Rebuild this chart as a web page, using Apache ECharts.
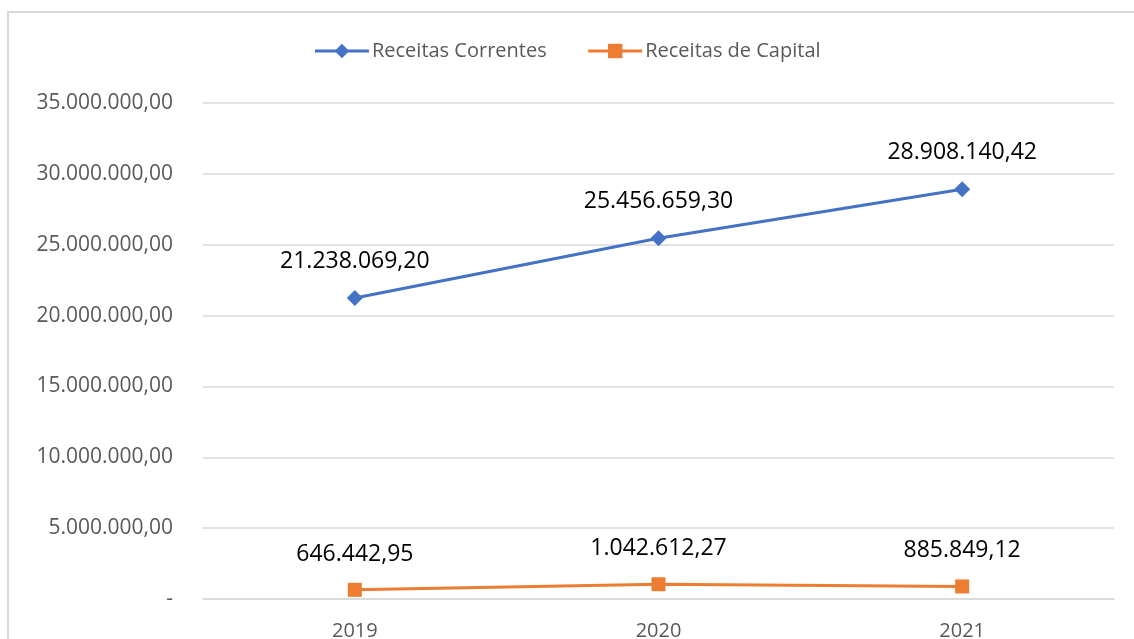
<!DOCTYPE html>
<html>
<head>
<meta charset="utf-8">
<script src="https://cdn.jsdelivr.net/npm/echarts@6/dist/echarts.min.js"></script>
<style>
  body { margin: 0; background: #fff; overflow: hidden; }
  #frame {
    position: absolute; left: 7px; top: 11px;
    width: 1140px; height: 700px;
    border: 2px solid #d9d9d9;
  }
  #main { position: absolute; left: 0; top: 0; width: 1134px; height: 639px; }
</style>
</head>
<body>
<div id="frame"></div>
<div id="main"></div>
<script>
// dados do gráfico
const anos = ['2019', '2020', '2021']
const receitasCorrentes = [21238069.20, 25456659.30, 28908140.42]
const receitasCapital = [646442.95, 1042612.27, 885849.12]

const fmt = v => v.toLocaleString('pt-BR', { minimumFractionDigits: 2, maximumFractionDigits: 2 })

let myChart = echarts.init(document.getElementById('main'))
myChart.setOption({
  animation: false,
  textStyle: { fontFamily: 'Open Sans, Liberation Sans, sans-serif' },
  legend: {
    top: 36,
    left: 'center',
    itemWidth: 54,
    itemHeight: 18,
    itemGap: 40,
    lineStyle: { width: 3 },
    textStyle: { fontSize: 20, color: '#595959', padding: [0, 0, 0, -2] },
    data: ['Receitas Correntes', 'Receitas de Capital']
  },
  grid: { left: 203, right: 20, top: 103, bottom: 40, containLabel: false, outerBoundsMode: 'none' },
  xAxis: {
    type: 'category',
    data: anos,
    axisTick: { show: false },
    axisLine: { lineStyle: { color: '#d9d9d9', width: 1.5 } },
    axisLabel: { fontSize: 20, color: '#595959', margin: 22 }
  },
  yAxis: {
    type: 'value',
    min: 0,
    max: 35000000,
    interval: 5000000,
    axisLine: { show: false },
    axisTick: { show: false },
    splitLine: { lineStyle: { color: '#d9d9d9', width: 1.5 } },
    axisLabel: {
      fontSize: 21,
      color: '#595959',
      margin: 30,
      formatter: v => v === 0 ? '-' : fmt(v)
    }
  },
  series: [
    {
      name: 'Receitas Correntes',
      type: 'line',
      data: receitasCorrentes,
      symbol: 'diamond',
      symbolSize: 16,
      lineStyle: { color: '#4472c4', width: 3 },
      itemStyle: { color: '#4472c4' },
      label: {
        show: true,
        position: 'top',
        distance: 17,
        fontSize: 23,
        color: '#000',
        formatter: p => fmt(p.value)
      }
    },
    {
      name: 'Receitas de Capital',
      type: 'line',
      data: receitasCapital,
      symbol: 'rect',
      symbolSize: 14,
      lineStyle: { color: '#ed7d31', width: 3 },
      itemStyle: { color: '#ed7d31' },
      label: {
        show: true,
        position: 'top',
        distance: 17,
        fontSize: 23,
        color: '#000',
        formatter: p => fmt(p.value)
      }
    }
  ]
})
</script>
</body>
</html>
